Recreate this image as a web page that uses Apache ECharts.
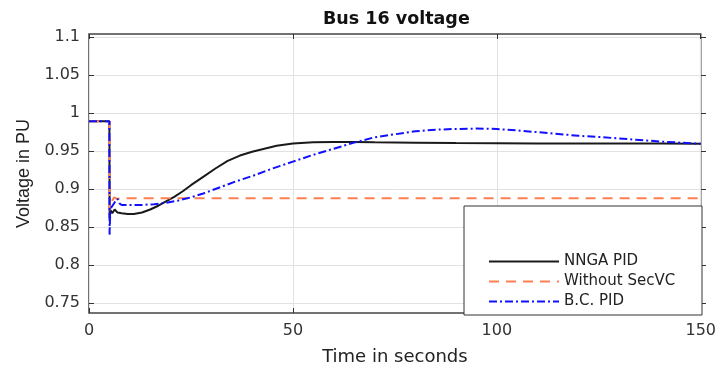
<!DOCTYPE html>
<html>
<head>
<meta charset="utf-8">
<script src="https://cdn.jsdelivr.net/npm/echarts@6/dist/echarts.min.js"></script>
<style>html,body{margin:0;padding:0;background:#fff}#c{width:719px;height:372px}</style>
</head>
<body>
<div id="c"></div>
<script>
const chartTitle = 'Bus 16 voltage';
const xName = 'Time in seconds';
const yName = 'Voltage in PU';
const seriesNames = ['NNGA PID', 'Without SecVC', 'B.C. PID'];
const xTicks = [0, 50, 100, 150];
const yTicks = [0.75, 0.8, 0.85, 0.9, 0.95, 1, 1.05, 1.1];

const nngaT = [0, 5, 5.05, 5.3, 5.7, 6.3, 7, 8, 9.5, 11, 13, 15, 17, 19, 21, 23, 25, 28, 31, 34, 37, 40, 43, 46, 50, 55, 60, 65, 70, 80, 90, 100, 110, 120, 130, 140, 150];
const nngaV = [0.989, 0.989, 0.862, 0.872, 0.868, 0.873, 0.869, 0.868, 0.867, 0.867, 0.869, 0.873, 0.878, 0.884, 0.890, 0.897, 0.905, 0.916, 0.927, 0.937, 0.944, 0.949, 0.953, 0.957, 0.960, 0.9615, 0.962, 0.962, 0.9615, 0.961, 0.9605, 0.9603, 0.960, 0.960, 0.960, 0.9598, 0.9597];

const noSecT = [0, 5, 5.05, 5.4, 5.8, 6.2, 6.8, 7.5, 9, 150];
const noSecV = [0.989, 0.989, 0.872, 0.880, 0.886, 0.889, 0.887, 0.8875, 0.8878, 0.8878];

const bcT = [0, 5, 5.05, 5.2, 5.5, 6, 6.5, 7, 7.5, 8, 10, 13, 16, 19, 22, 25, 28, 32, 36, 40, 45, 50, 55, 60, 65, 70, 75, 80, 85, 90, 95, 100, 105, 110, 115, 120, 125, 130, 135, 140, 145, 150];
const bcV = [0.989, 0.989, 0.84, 0.87, 0.876, 0.880, 0.884, 0.887, 0.881, 0.879, 0.879, 0.879, 0.880, 0.882, 0.885, 0.889, 0.894, 0.902, 0.910, 0.917, 0.927, 0.936, 0.945, 0.953, 0.961, 0.968, 0.972, 0.976, 0.978, 0.979, 0.9795, 0.979, 0.977, 0.9748, 0.9725, 0.970, 0.9685, 0.9665, 0.9645, 0.9625, 0.961, 0.9595];

const zip = (t, v) => t.map((x, i) => [x, v[i]]);

const tickFont = { fontFamily: 'DejaVu Sans', fontSize: 16, color: '#333' };
const gridLine = { show: true, lineStyle: { color: '#e2e2e2', width: 1 } };
const tickIn = { show: true, inside: true, length: 5, lineStyle: { color: '#333', width: 1 } };

const chart = echarts.init(document.getElementById('c'), null, { renderer: 'canvas' });
chart.setOption({
  backgroundColor: '#fff',
  animation: false,
  title: {
    text: chartTitle, left: 323, top: 10, padding: 0,
    textStyle: { fontFamily: 'DejaVu Sans', fontWeight: 'bold', fontSize: 17.5, color: '#111' }
  },
  grid: [
    { left: 89, right: 13, top: 34, bottom: 59, show: true, borderColor: '#444', borderWidth: 1.5, backgroundColor: 'transparent' },
    { left: 89, right: 13, top: 37, bottom: 69, show: false }
  ],
  xAxis: [
    { gridIndex: 0, type: 'value', min: xTicks[0], max: xTicks[xTicks.length - 1], interval: 50, position: 'bottom',
      axisLine: { show: false }, axisTick: tickIn, axisLabel: Object.assign({ margin: 10 }, tickFont),
      splitLine: gridLine,
      name: xName, nameLocation: 'middle', nameGap: 35,
      nameTextStyle: { fontFamily: 'DejaVu Sans', fontSize: 18, color: '#222' } },
    { gridIndex: 0, type: 'value', min: 0, max: 150, interval: 50, position: 'top',
      axisLine: { show: false }, axisTick: tickIn, axisLabel: { show: false }, splitLine: { show: false } },
    { gridIndex: 1, type: 'value', min: 0, max: 150, show: false }
  ],
  yAxis: [
    { gridIndex: 0, type: 'value', min: 0.73684, max: 1.10395,
      axisLine: { show: false }, axisTick: { show: false }, axisLabel: { show: false }, splitLine: { show: false },
      name: yName, nameLocation: 'middle', nameGap: 56,
      nameTextStyle: { fontFamily: 'Liberation Sans', fontSize: 18, color: '#222' } },
    { gridIndex: 1, type: 'value', min: yTicks[0], max: yTicks[yTicks.length - 1], interval: 0.05, position: 'left',
      axisLine: { show: false }, axisTick: tickIn, axisLabel: Object.assign({ margin: 9 }, tickFont),
      splitLine: gridLine },
    { gridIndex: 1, type: 'value', min: 0.75, max: 1.1, interval: 0.05, position: 'right',
      axisLine: { show: false }, axisTick: tickIn, axisLabel: { show: false }, splitLine: { show: false } }
  ],
  graphic: [
    { type: 'rect', z: 100, shape: { x: 464, y: 206, width: 238, height: 109 },
      style: { fill: '#fff', stroke: '#333', lineWidth: 1 } }
  ],
  legend: {
    z: 110, orient: 'vertical', left: 488, top: 254, padding: 0,
    itemWidth: 70, itemHeight: 14, itemGap: 5, itemTextGap: 6,
    itemStyle: { opacity: 0, borderWidth: 0 },
    textStyle: { fontFamily: 'DejaVu Sans', fontSize: 15, color: '#222' },
    data: seriesNames
  },
  series: [
    { name: seriesNames[0], type: 'line', xAxisIndex: 0, yAxisIndex: 0, data: zip(nngaT, nngaV),
      symbol: 'none', smooth: false, color: '#1a1a1a', lineStyle: { color: '#1a1a1a', width: 2 } },
    { name: seriesNames[1], type: 'line', xAxisIndex: 0, yAxisIndex: 0, data: zip(noSecT, noSecV),
      symbol: 'none', color: '#ff7f50', lineStyle: { color: '#ff7f50', width: 2, type: [10, 7] } },
    { name: seriesNames[2], type: 'line', xAxisIndex: 0, yAxisIndex: 0, data: zip(bcT, bcV),
      symbol: 'none', color: '#1010ff', lineStyle: { color: '#1010ff', width: 2, type: [8, 3, 2, 3] } }
  ]
});
</script>
</body>
</html>
